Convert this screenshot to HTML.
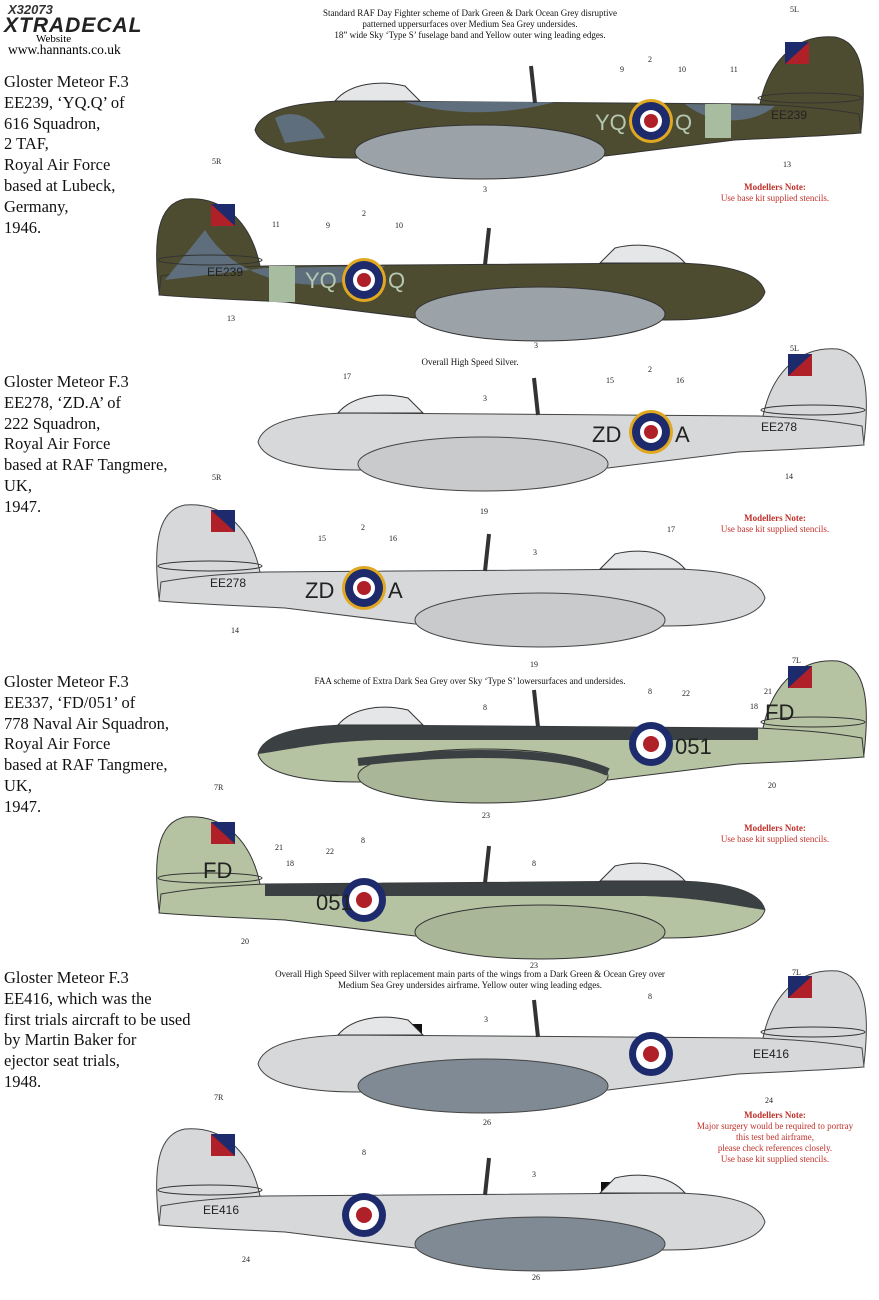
<!DOCTYPE html>
<html><head><meta charset="utf-8"><style>
body{margin:0;background:#fff;width:879px;height:1300px;overflow:hidden;position:relative;font-family:"Liberation Serif",serif}
.t{position:absolute;left:4px;font-size:16.5px;line-height:20.8px;color:#111}
.cap{position:absolute;font-size:9px;line-height:11px;text-align:center;color:#111}
.note{position:absolute;font-size:9px;line-height:11px;text-align:center;color:#c0302a;width:200px}
svg{position:absolute;left:0;top:0}
</style></head><body>
<div style="position:absolute;left:8px;top:2px;font:italic bold 13px 'Liberation Sans',sans-serif;color:#333">X32073</div>
<div style="position:absolute;left:4px;top:14px;font:italic 900 21px 'Liberation Sans',sans-serif;color:#222;letter-spacing:1px">XTRADECAL</div>
<div style="position:absolute;left:36px;top:33px;font-size:11px">Website</div>
<div style="position:absolute;left:8px;top:42px;font-size:13.5px">www.hannants.co.uk</div>

<div class="t" style="top:72px">Gloster Meteor F.3<br>EE239, ‘YQ.Q’ of<br>616 Squadron,<br>2 TAF,<br>Royal Air Force<br>based at Lubeck,<br>Germany,<br>1946.</div>
<div class="t" style="top:372px">Gloster Meteor F.3<br>EE278, ‘ZD.A’ of<br>222 Squadron,<br>Royal Air Force<br>based at RAF Tangmere,<br>UK,<br>1947.</div>
<div class="t" style="top:672px">Gloster Meteor F.3<br>EE337, ‘FD/051’ of<br>778 Naval Air Squadron,<br>Royal Air Force<br>based at RAF Tangmere,<br>UK,<br>1947.</div>
<div class="t" style="top:968px">Gloster Meteor F.3<br>EE416, which was the<br>first trials aircraft to be used<br>by Martin Baker for<br>ejector seat trials,<br>1948.</div>

<div class="cap" style="left:270px;top:8px;width:400px">Standard RAF Day Fighter scheme of Dark Green &amp; Dark Ocean Grey disruptive<br>patterned uppersurfaces over Medium Sea Grey undersides.<br>18” wide Sky ‘Type S’ fuselage band and Yellow outer wing leading edges.</div>
<div class="cap" style="left:320px;top:357px;width:300px">Overall High Speed Silver.</div>
<div class="cap" style="left:250px;top:676px;width:440px">FAA scheme of Extra Dark Sea Grey over Sky ‘Type S’ lowersurfaces and undersides.</div>
<div class="cap" style="left:250px;top:969px;width:440px">Overall High Speed Silver with replacement main parts of the wings from a Dark Green &amp; Ocean Grey over<br>Medium Sea Grey undersides airframe. Yellow outer wing leading edges.</div>

<div class="note" style="left:675px;top:182px"><b>Modellers Note:</b><br>Use base kit supplied stencils.</div>
<div class="note" style="left:675px;top:513px"><b>Modellers Note:</b><br>Use base kit supplied stencils.</div>
<div class="note" style="left:675px;top:823px"><b>Modellers Note:</b><br>Use base kit supplied stencils.</div>
<div class="note" style="left:675px;top:1110px"><b>Modellers Note:</b><br>Major surgery would be required to portray<br>this test bed airframe,<br>please check references closely.<br>Use base kit supplied stencils.</div>

<svg width="879" height="1300" viewBox="0 0 879 1300">
<defs>
<g id="fus">
<path d="M505,-24 C515,-72 545,-94 580,-91 C608,-86 612,-50 606,2 L540,-8 Z"/>
<path d="M0,2 C5,-18 40,-26 90,-27 L500,-24 C540,-22 570,-20 604,-14 L606,5 C570,8 520,10 480,12 L350,28 L100,30 C40,30 5,20 0,2 Z"/>
</g>
<g id="det">
<path d="M80,-27 C95,-45 125,-48 150,-42 L165,-27 Z" fill="#e4e6e8" stroke="#333" stroke-width="1"/>
<line x1="280" y1="-25" x2="276" y2="-62" stroke="#333" stroke-width="4"/>
<ellipse cx="555" cy="-30" rx="52" ry="5" fill="none" stroke="#333" stroke-width="1"/>
<rect x="530" y="-86" width="24" height="22" fill="#1d2a6b"/><path d="M530,-64 L554,-86 L554,-64Z" fill="#b02028"/>
</g>
</defs>

<!-- A1 camo -->
<g transform="translate(255,128)">
<g fill="#4e4c30" stroke="#333"><use href="#fus"/></g>
<path d="M150,-26 C200,-10 260,-15 300,-26 Z M430,-24 C460,0 500,-5 520,-22Z M20,-10 C40,-20 60,-10 70,10 L30,15Z" fill="#5e6e7c"/>
<rect x="450" y="-24" width="26" height="34" fill="#a8bca0"/>
<ellipse cx="225" cy="24" rx="125" ry="27" fill="#9ba2a8" stroke="#333"/>
<use href="#det"/>
</g>
<!-- A2 -->
<g transform="translate(765,290) scale(-1,1)">
<g fill="#4e4c30" stroke="#333"><use href="#fus"/></g>
<path d="M380,-24 C420,5 520,5 560,-60 L600,-10 L500,-22Z" fill="#5e6e7c"/>
<rect x="470" y="-24" width="26" height="36" fill="#a8bca0"/>
<ellipse cx="225" cy="24" rx="125" ry="27" fill="#9ba2a8" stroke="#333"/>
<use href="#det"/>
</g>
<!-- A3 silver -->
<g transform="translate(258,440)">
<g fill="#d6d8da" stroke="#444"><use href="#fus"/></g>
<ellipse cx="225" cy="24" rx="125" ry="27" fill="#c8cacc" stroke="#444"/>
<use href="#det"/>
</g>
<g transform="translate(765,596) scale(-1,1)">
<g fill="#d6d8da" stroke="#444"><use href="#fus"/></g>
<ellipse cx="225" cy="24" rx="125" ry="27" fill="#c8cacc" stroke="#444"/>
<use href="#det"/>
</g>
<!-- A5 FAA -->
<g transform="translate(258,752)">
<g fill="#b5c3a3" stroke="#333"><use href="#fus"/></g>
<path d="M0,2 C5,-18 40,-26 90,-27 L500,-24 L500,-12 L120,-12 C60,-10 30,-2 0,2Z" fill="#3b4043"/>
<ellipse cx="225" cy="24" rx="125" ry="27" fill="#a9b798" stroke="#333"/>
<path d="M100,10 C200,-2 300,-2 350,20" fill="none" stroke="#3b4043" stroke-width="8"/>
<use href="#det"/>
</g>
<g transform="translate(765,908) scale(-1,1)">
<g fill="#b5c3a3" stroke="#333"><use href="#fus"/></g>
<path d="M0,2 C5,-18 40,-26 90,-27 L500,-24 L500,-12 L120,-12 C60,-10 30,-2 0,2Z" fill="#3b4043"/>
<ellipse cx="225" cy="24" rx="125" ry="27" fill="#a9b798" stroke="#333"/>
<use href="#det"/>
</g>
<!-- A7 -->
<g transform="translate(258,1062)">
<g fill="#d6d8da" stroke="#444"><use href="#fus"/></g>
<ellipse cx="225" cy="24" rx="125" ry="27" fill="#7f8a94" stroke="#444"/>
<rect x="150" y="-38" width="14" height="10" fill="#111"/>
<use href="#det"/>
</g>
<g transform="translate(765,1220) scale(-1,1)">
<g fill="#d6d8da" stroke="#444"><use href="#fus"/></g>
<ellipse cx="225" cy="24" rx="125" ry="27" fill="#7f8a94" stroke="#444"/>
<rect x="150" y="-38" width="14" height="10" fill="#111"/>
<use href="#det"/>
</g>

<!-- roundels -->
<g stroke="none">
<circle cx="651" cy="121" r="22" fill="#e0a820"/><circle cx="651" cy="121" r="19" fill="#1d2a6b"/><circle cx="651" cy="121" r="11" fill="#fff"/><circle cx="651" cy="121" r="7" fill="#b02028"/>
<circle cx="364" cy="280" r="22" fill="#e0a820"/><circle cx="364" cy="280" r="19" fill="#1d2a6b"/><circle cx="364" cy="280" r="11" fill="#fff"/><circle cx="364" cy="280" r="7" fill="#b02028"/>
<circle cx="651" cy="432" r="22" fill="#e0a820"/><circle cx="651" cy="432" r="19" fill="#1d2a6b"/><circle cx="651" cy="432" r="11" fill="#fff"/><circle cx="651" cy="432" r="7" fill="#b02028"/>
<circle cx="364" cy="588" r="22" fill="#e0a820"/><circle cx="364" cy="588" r="19" fill="#1d2a6b"/><circle cx="364" cy="588" r="11" fill="#fff"/><circle cx="364" cy="588" r="7" fill="#b02028"/>
<circle cx="651" cy="744" r="22" fill="#1d2a6b"/><circle cx="651" cy="744" r="15" fill="#fff"/><circle cx="651" cy="744" r="8" fill="#b02028"/>
<circle cx="364" cy="900" r="22" fill="#1d2a6b"/><circle cx="364" cy="900" r="15" fill="#fff"/><circle cx="364" cy="900" r="8" fill="#b02028"/>
<circle cx="651" cy="1054" r="22" fill="#1d2a6b"/><circle cx="651" cy="1054" r="15" fill="#fff"/><circle cx="651" cy="1054" r="8" fill="#b02028"/>
<circle cx="364" cy="1215" r="22" fill="#1d2a6b"/><circle cx="364" cy="1215" r="15" fill="#fff"/><circle cx="364" cy="1215" r="8" fill="#b02028"/>
</g>
<g font-family="Liberation Sans,sans-serif" font-size="22">
<text x="595" y="130" fill="#b5c7b0">YQ</text><text x="675" y="130" fill="#b5c7b0">Q</text>
<text x="305" y="288" fill="#b5c7b0">YQ</text><text x="388" y="288" fill="#b5c7b0">Q</text>
<text x="592" y="442" fill="#222">ZD</text><text x="675" y="442" fill="#222">A</text>
<text x="305" y="598" fill="#222">ZD</text><text x="388" y="598" fill="#222">A</text>
<text x="675" y="754" fill="#222">051</text><text x="316" y="910" fill="#222">051</text>
<text x="765" y="720" fill="#222">FD</text><text x="203" y="878" fill="#222">FD</text>
</g>
<g font-family="Liberation Sans,sans-serif" font-size="12" fill="#222">
<text x="771" y="119">EE239</text><text x="207" y="276">EE239</text>
<text x="761" y="431">EE278</text><text x="210" y="587">EE278</text>
<text x="753" y="1058">EE416</text><text x="203" y="1214">EE416</text>
</g>
<g font-size="8" fill="#222" font-family="Liberation Serif,serif">
<text x="620" y="72">9</text><text x="648" y="62">2</text><text x="678" y="72">10</text><text x="730" y="72">11</text><text x="790" y="12">5L</text><text x="783" y="167">13</text><text x="483" y="192">3</text>
<text x="326" y="228">9</text><text x="362" y="216">2</text><text x="395" y="228">10</text><text x="272" y="227">11</text><text x="212" y="164">5R</text><text x="227" y="321">13</text><text x="534" y="348">3</text>
<text x="606" y="383">15</text><text x="648" y="372">2</text><text x="676" y="383">16</text><text x="343" y="379">17</text><text x="483" y="401">3</text><text x="790" y="351">5L</text><text x="785" y="479">14</text><text x="480" y="514">19</text>
<text x="318" y="541">15</text><text x="361" y="530">2</text><text x="389" y="541">16</text><text x="667" y="532">17</text><text x="533" y="555">3</text><text x="212" y="480">5R</text><text x="231" y="633">14</text><text x="530" y="667">19</text>
<text x="648" y="694">8</text><text x="682" y="696">22</text><text x="764" y="694">21</text><text x="750" y="709">18</text><text x="792" y="663">7L</text><text x="483" y="710">8</text><text x="482" y="818">23</text><text x="768" y="788">20</text>
<text x="361" y="843">8</text><text x="326" y="854">22</text><text x="275" y="850">21</text><text x="286" y="866">18</text><text x="214" y="790">7R</text><text x="532" y="866">8</text><text x="530" y="968">23</text><text x="241" y="944">20</text>
<text x="648" y="999">8</text><text x="484" y="1022">3</text><text x="792" y="975">7L</text><text x="765" y="1103">24</text><text x="483" y="1125">26</text>
<text x="362" y="1155">8</text><text x="532" y="1177">3</text><text x="214" y="1100">7R</text><text x="242" y="1262">24</text><text x="532" y="1280">26</text>
</g>
</svg>
</body></html>
